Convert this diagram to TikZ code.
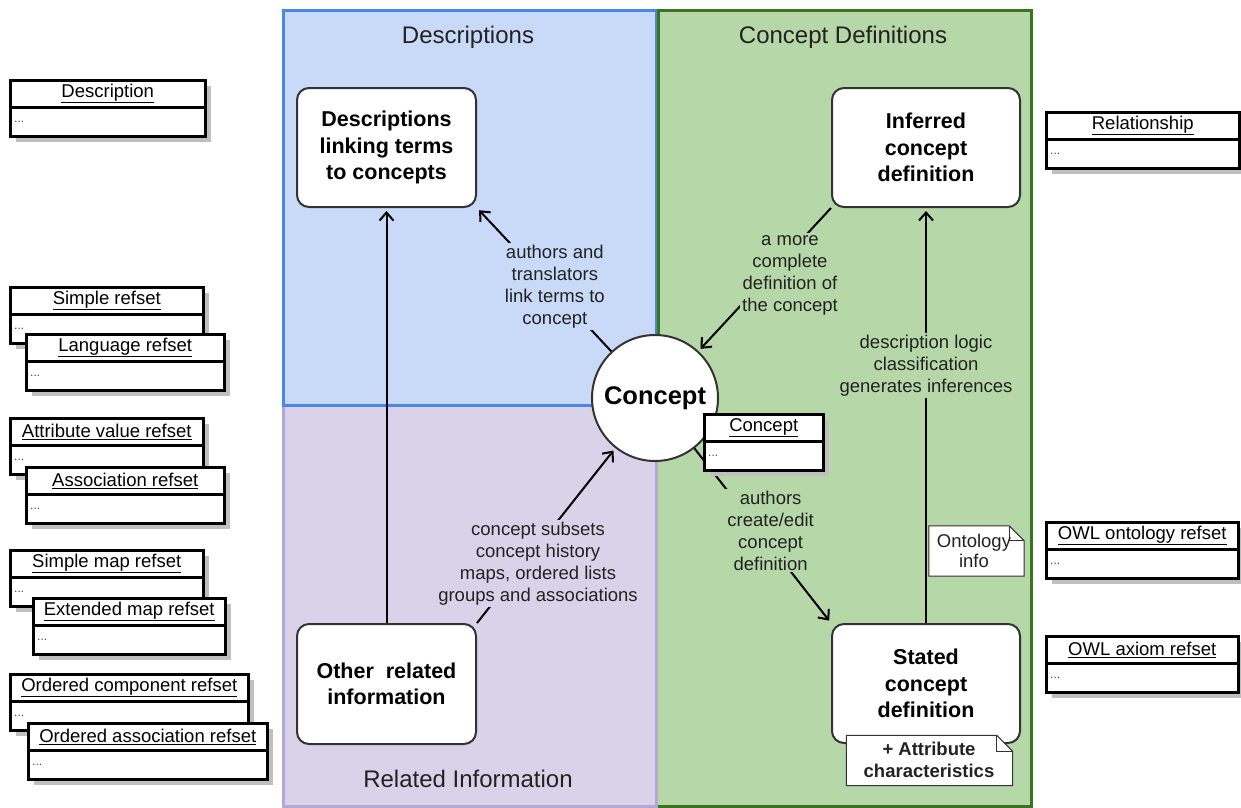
\documentclass[tikz,border=0pt]{standalone}
\usepackage{fontspec}
\setmainfont{Liberation Sans}
\usetikzlibrary{shapes.geometric, arrows.meta, positioning, calc, shadows}
\definecolor{colorDesc}{RGB}{201, 218, 248}
\definecolor{colorDescLine}{RGB}{74, 134, 232}
\definecolor{colorRel}{RGB}{217, 210, 233}
\definecolor{colorRelLine}{RGB}{180, 167, 214}
\definecolor{colorDef}{RGB}{182, 215, 168}
\definecolor{colorDefLine}{RGB}{56, 118, 29}
\definecolor{colorText}{RGB}{34, 34, 34}
\tikzstyle{panel} = [rectangle, line width=3pt, anchor=north west, inner sep=0pt]
\tikzstyle{title} = [font=\fontsize{24}{29}\selectfont, text=colorText]
\tikzstyle{process} = [rectangle, rounded corners=12pt, draw=black!80, line width=2pt, fill=white, align=center, font=\bfseries\fontsize{21.5}{26.5}\selectfont]
\tikzstyle{conceptnode} = [circle, draw=black!80, line width=2pt, fill=white, minimum size=126pt, inner sep=0pt, font=\bfseries\fontsize{25.5}{30}\selectfont]
\tikzstyle{umlbox} = [rectangle, draw=black, line width=2.5pt, fill=white, minimum height=56pt, anchor=north west, inner sep=0pt, drop shadow={shadow xshift=6pt, shadow yshift=-6pt, fill=black!25, opacity=1}]
\tikzstyle{umltitle} = [font=\fontsize{18.5}{22}\selectfont, inner sep=0pt]
\tikzstyle{umldots} = [font=\fontsize{12}{14}\selectfont, text=black!70, inner sep=0pt, anchor=west]
\tikzstyle{arrow} = [line width=2pt, -{Straight Barb[length=8pt, width=14pt, line width=2pt]}, shorten >=3pt]
\tikzstyle{comment} = [align=center, inner sep=2pt, font=\fontsize{18.5}{22}\selectfont, text=colorText]
\tikzstyle{note} = [draw=black!80, line width=1pt, fill=white]
\tikzstyle{notetext} = [align=center, inner sep=0pt, font=\fontsize{18.5}{20.5}\selectfont, text=colorText]

% class box: name, left, top, width, title
\newcommand{\umlclass}[5]{%
	\node[umlbox, minimum width=#4pt] (#1) at (#2,#3) {};
	\draw[line width=2.5pt] ([yshift=-28.5pt]#1.north west) -- ([yshift=-28.5pt]#1.north east);
	\node[umltitle] (#1Title) at ([yshift=-14.5pt]#1.north) {\underline{#5}};
	\node[umldots] (#1Dots) at ([xshift=5pt, yshift=-43pt]#1.north west) {...};
}
% folded note outline round an empty node
\newcommand{\dogear}[2]{%
	\filldraw[note] (#1.south west) -- (#1.north west) -- ([xshift=-#2]#1.north east) -- ([yshift=-#2]#1.north east) -- (#1.south east) -- cycle;
	\draw[note, fill=none] ([xshift=-#2]#1.north east) |- ([yshift=-#2]#1.north east);
}

\begin{document}
\begin{tikzpicture}[x=1pt, y=-1pt]

	\useasboundingbox (0,0) rectangle (1241,807);

	% panels
	\node (defPanel)[panel, draw=colorDefLine, fill=colorDef, minimum width=375pt, minimum height=796pt] at (655,9) {};
	\node (relPanel)[panel, draw=colorRelLine, fill=colorRel, minimum width=373pt, minimum height=401pt] at (282,404) {};
	\node (descPanel)[panel, draw=colorDescLine, fill=colorDesc, minimum width=373pt, minimum height=395pt] at (282,9) {};
	\draw[line width=3pt, colorDefLine] (descPanel.north east) -- (descPanel.south east);

	\node (descTitle)[title] at (468,37) {Descriptions};
	\node (defTitle)[title] at (843,37) {Concept Definitions};
	\node (relTitle)[title] at (468,779) {Related Information};

	% main boxes
	\node (descBox)[process, minimum width=179pt, minimum height=119pt] at (386.5,147.5) {Descriptions\\linking terms\\to concepts};
	\node (inferBox)[process, minimum width=188pt, minimum height=119pt] at (926,147.5) {Inferred\\concept\\definition};
	\node (otherBox)[process, minimum width=179pt, minimum height=120pt] at (386.5,684) {Other\ \ related\\information};
	\node (statedBox)[process, minimum width=188pt, minimum height=119pt] at (926,683.5) {Stated\\concept\\definition};
	\node (concept)[conceptnode] at (655,398) {Concept};

	% lines and arrows
	\draw[arrow](otherBox) -- (descBox);
	\draw[arrow](concept) -- (descBox.south east) node[comment, fill=colorDesc, pos=0.45, xshift=4pt] (lblAuthors){authors and\\translators\\link terms to\\concept};
	\draw[arrow](inferBox.south west) -- (concept) node[comment, fill=colorDef, pos=0.4, xshift=12pt, yshift=-10pt] (lblComplete){a more\\complete\\definition of\\the concept};
	\draw[arrow](statedBox) -- (inferBox) node[comment, fill=colorDef, pos=0.62] (lblLogic){description logic\\classification\\generates inferences};
	\draw[arrow](otherBox.north east) -- (concept) node[comment, fill=colorRel, pos=0.34, xshift=14pt] (lblSubsets){concept subsets\\concept history\\maps, ordered lists\\groups and associations};
	\draw[arrow](concept) -- (statedBox.north west) node[comment, fill=colorDef, pos=0.47, xshift=12pt] (lblEdit){authors\\create/edit\\concept\\definition};

	% class boxes
	\umlclass{umlConcept}{703}{413}{119}{Concept}
	\foreach \n/\x/\y/\w/\t in {umlDesc/9/79/195/Description, umlSimple/9/286/193/Simple refset, umlLanguage/25/333/198/Language refset,
		umlAttr/9/417/193/Attribute value refset, umlAssoc/25/466/198/Association refset, umlSimpleMap/9/549/193/Simple map refset,
		umlExtMap/32/597/192/Extended map refset, umlOrdComp/9/673/238/Ordered component refset, umlOrdAssoc/27/722/239/Ordered association refset,
		umlRel/1045/111/193/Relationship, umlOwlOnt/1045/521/192/OWL ontology refset, umlOwlAxiom/1045/635/192/OWL axiom refset}
		{\umlclass{\n}{\x}{\y}{\w}{\t}}

	% notes
	\node (ontNote)[minimum width=95pt, minimum height=50pt, inner sep=0pt] at (976.5,551) {};
	\dogear{ontNote}{15pt}
	\node (ontText)[notetext] at (974,551) {Ontology\\info};
	\node (attrNote)[minimum width=166pt, minimum height=50pt, inner sep=0pt] at (929.5,760.5) {};
	\dogear{attrNote}{16pt}
	\node (attrText)[notetext, font=\bfseries\fontsize{18.5}{22}\selectfont] at (929,760) {+ Attribute\\characteristics};

\end{tikzpicture}
\end{document}
